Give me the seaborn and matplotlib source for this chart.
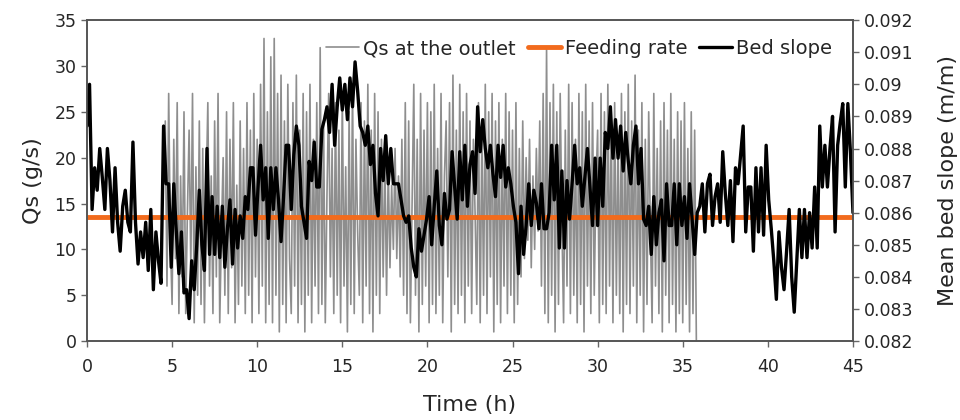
import numpy as np
import pandas as pd
import matplotlib
matplotlib.use("Agg")
import matplotlib.pyplot as plt
import seaborn as sns

# ---------------- data ----------------
# Qs at the outlet (g/s), sampled every 0.1 h starting at 4.6 h
qs_start, qs_step = 4.6, 0.1
qs_outlet = [
    24, 6, 27, 11, 4, 22, 9, 26, 3, 18,
    7, 25, 3, 14, 23, 8, 27, 2, 19, 5,
    24, 4, 21, 2, 16, 26, 6, 18, 3, 24,
    7, 27, 2, 12, 20, 5, 25, 3, 22, 8,
    26, 2, 17, 4, 24, 6, 21, 3, 26, 5,
    23, 2, 27, 7, 22, 3, 28, 6, 33, 2,
    25, 4, 31, 2, 33, 5, 27, 1, 29, 4,
    24, 2, 28, 9, 3, 26, 6, 29, 2, 23,
    4, 27, 1, 25, 5, 28, 2, 22, 6, 26,
    3, 32, 4, 24, 2, 16, 27, 7, 21, 3,
    26, 5, 23, 2, 27, 6, 19, 1, 25, 4,
    28, 3, 22, 12, 5, 26, 2, 24, 6, 28,
    3, 23, 1, 27, 5, 25, 3, 22, 7, 20,
    5, 19, 8, 17, 10, 21, 9, 18, 7, 22,
    5, 26, 3, 24, 2, 15, 28, 5, 22, 1,
    27, 4, 23, 6, 26, 2, 25, 4, 28, 3,
    21, 5, 27, 2, 18, 24, 7, 26, 1, 29,
    4, 23, 3, 28, 5, 25, 2, 27, 6, 24,
    3, 22, 14, 4, 26, 2, 23, 5, 28, 3,
    25, 7, 27, 1, 24, 4, 26, 2, 22, 6,
    27, 3, 25, 5, 23, 2, 26, 4, 21, 7,
    24, 9, 20, 11, 22, 8, 18, 10, 21, 12,
    24, 6, 27, 3, 32, 2, 26, 5, 28, 1,
    25, 4, 27, 13, 2, 23, 6, 28, 3, 26,
    5, 22, 2, 27, 4, 25, 1, 28, 6, 24,
    3, 26, 5, 17, 23, 2, 27, 4, 25, 3,
    28, 6, 24, 2, 26, 5, 22, 3, 27, 1,
    25, 4, 28, 3, 24, 6, 29, 2, 23, 5,
    26, 1, 22, 4, 25, 12, 2, 27, 6, 21,
    3, 24, 1, 26, 5, 23, 2, 27, 4, 22,
    1, 25, 3, 24, 2, 26, 4, 21, 1, 25,
    3, 23, 0,
]

# Feeding rate (g/s)
feed_time = [0, 45]
feed_rate = [13.5, 13.5]

# Mean bed slope (per mil, m/m x 1000), sampled every 0.15 h from 0 h to 45 h
slope_step = 0.15
bed_slope_permil = [
    88.7, 90.0, 86.1, 87.4, 86.7, 88.0, 87.1, 86.1, 88.0, 87.0,
    85.4, 87.4, 85.7, 84.8, 86.2, 86.7, 85.7, 85.4, 88.2, 85.7,
    84.4, 85.4, 84.6, 85.7, 84.2, 86.1, 83.6, 85.4, 84.5, 83.8,
    88.7, 86.9, 86.9, 84.3, 86.9, 85.4, 84.1, 85.4, 83.5, 83.6,
    82.7, 84.5, 83.6, 85.0, 86.7, 85.0, 84.2, 88.0, 84.7, 86.5,
    84.7, 86.2, 84.6, 86.2, 84.3, 85.5, 86.4, 84.4, 86.1, 84.9,
    85.9, 85.2, 86.5, 86.1, 87.4, 87.4, 85.3, 86.8, 88.1, 86.4,
    87.4, 85.2, 87.4, 86.1, 87.4, 86.4, 85.1, 86.5, 88.1, 88.1,
    86.1, 87.8, 88.7, 88.1, 86.2, 85.7, 85.2, 87.6, 87.0, 88.2,
    86.8, 86.8, 88.6, 88.9, 89.3, 88.5, 90.0, 88.1, 89.3, 90.2,
    89.2, 90.0, 88.9, 90.2, 89.3, 90.7, 89.8, 88.7, 88.5, 88.1,
    88.7, 87.5, 88.1, 86.6, 85.9, 88.0, 87.0, 88.4, 86.9, 88.0,
    86.9, 86.9, 86.9, 86.4, 85.9, 85.7, 85.9, 84.9, 84.3, 84.0,
    85.5, 84.8, 85.3, 85.8, 86.5, 85.0, 86.2, 87.3, 85.6, 85.0,
    86.6, 85.8, 86.1, 87.9, 86.8, 85.8, 87.9, 86.4, 88.1, 86.2,
    87.5, 87.9, 86.6, 89.3, 87.9, 88.9, 88.0, 87.4, 88.1, 87.2,
    86.5, 88.1, 87.1, 88.1, 86.8, 87.4, 86.9, 86.2, 85.7, 84.1,
    86.2, 84.7, 85.6, 86.9, 85.6, 86.7, 86.3, 85.5, 86.9, 85.5,
    85.5, 86.0, 88.1, 86.4, 88.1, 84.9, 87.3, 84.9, 87.0, 85.8,
    86.9, 88.1, 86.9, 87.4, 86.2, 87.1, 88.0, 86.8, 85.6, 87.7,
    85.6, 87.7, 86.2, 88.5, 88.0, 89.3, 87.7, 88.9, 87.7, 88.7,
    87.3, 88.5, 87.6, 86.9, 88.1, 88.7, 86.9, 88.0, 85.8, 85.6,
    86.2, 84.7, 86.5, 85.0, 86.0, 86.4, 84.5, 86.9, 85.6, 85.6,
    86.9, 85.0, 86.9, 85.6, 86.5, 85.2, 86.9, 85.8, 84.7, 86.0,
    86.2, 86.9, 85.4, 86.9, 87.2, 85.6, 86.5, 86.9, 85.7, 87.9,
    86.6, 85.6, 87.0, 85.1, 87.4, 86.9, 87.8, 88.7, 85.4, 86.8,
    86.8, 84.8, 87.4, 85.4, 87.4, 85.3, 88.1, 86.4, 85.5, 84.5,
    83.3, 85.4, 84.3, 83.6, 84.8, 86.1, 84.0, 82.9, 84.5, 86.1,
    84.6, 86.1, 84.6, 86.0, 84.9, 86.8, 84.9, 88.7, 86.8, 88.1,
    86.8, 88.0, 89.0, 85.4, 88.1, 88.8, 89.4, 86.8, 89.4, 87.9,
    86.0,
]

x_ticks = [0, 5, 10, 15, 20, 25, 30, 35, 40, 45]
qs_ticks = [0, 5, 10, 15, 20, 25, 30, 35]
slope_ticks = [0.082, 0.083, 0.084, 0.085, 0.086, 0.087, 0.088, 0.089, 0.090, 0.091, 0.092]
slope_tick_labels = ["0.082", "0.083", "0.084", "0.085", "0.086", "0.087",
                     "0.088", "0.089", "0.09", "0.091", "0.092"]

# ---------------- tables ----------------
qs_df = pd.DataFrame({"t": qs_start + qs_step * np.arange(len(qs_outlet)),
                      "qs": qs_outlet})
feed_df = pd.DataFrame({"t": feed_time, "qs": feed_rate})
slope_df = pd.DataFrame({"t": slope_step * np.arange(len(bed_slope_permil)),
                         "s": np.array(bed_slope_permil) / 1000.0})

# ---------------- plot ----------------
sns.set_style("white")
plt.rcParams["font.family"] = ["DejaVu Sans"]

fig, ax = plt.subplots(figsize=(9.6, 4.2), dpi=100)
fig.subplots_adjust(left=0.0906, right=0.8885, top=0.952, bottom=0.188)

GRAY = "#8e8e8e"
ORANGE = "#F26B1D"

sns.lineplot(data=qs_df, x="t", y="qs", ax=ax, color=GRAY, linewidth=1.2,
             label="Qs at the outlet", legend=False)
sns.lineplot(data=feed_df, x="t", y="qs", ax=ax, color=ORANGE, linewidth=3.5,
             label="Feeding rate", legend=False)

ax2 = ax.twinx()
sns.lineplot(data=slope_df, x="t", y="s", ax=ax2, color="black", linewidth=2.4,
             label="Bed slope", legend=False)

ax.set_xlim(0, 45)
ax.set_ylim(0, 35)
ax2.set_ylim(0.082, 0.092)
ax.set_xticks(x_ticks)
ax.set_yticks(qs_ticks)
ax2.set_yticks(slope_ticks)
ax2.set_yticklabels(slope_tick_labels)

ax.set_xlabel("Time (h)", fontsize=16, labelpad=14)
ax.set_ylabel("Qs (g/s)", fontsize=16, labelpad=8)
ax2.set_ylabel("Mean bed slope (m/m)", fontsize=16, labelpad=18)

for a in (ax, ax2):
    a.tick_params(labelsize=12.5, length=4, width=1, color="#666666",
                  direction="out")
    for sp in a.spines.values():
        sp.set_color("#555555")
        sp.set_linewidth(1.2)
ax.tick_params(axis="x", pad=8, bottom=True)
ax.tick_params(axis="y", left=True)
ax2.tick_params(axis="y", right=True)

h1, l1 = ax.get_legend_handles_labels()
h2, l2 = ax2.get_legend_handles_labels()
ax2.legend(h1 + h2, l1 + l2, ncol=3, frameon=False, fontsize=14,
           loc="upper right", bbox_to_anchor=(0.995, 0.995),
           handlelength=1.7, handletextpad=0.2, columnspacing=0.6)

fig.savefig("out.png", dpi=100)
